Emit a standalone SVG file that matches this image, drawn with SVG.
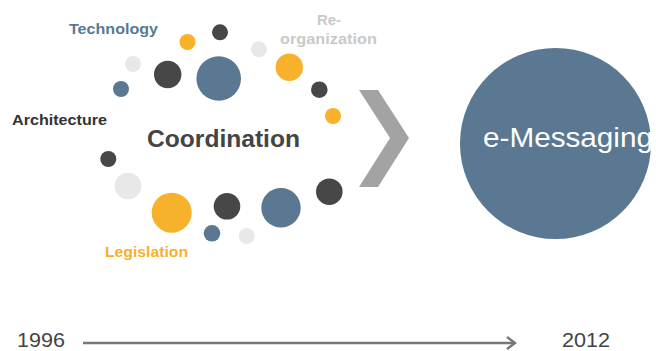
<svg xmlns="http://www.w3.org/2000/svg" width="656" height="351" viewBox="0 0 656 351">
<style>
text{font-family:"Liberation Sans",Arial,Helvetica,sans-serif;font-weight:bold}
.blue{fill:#5a7891}
.dark{fill:#474747}
.yel{fill:#f7b12b}
.lg{fill:#e8e8e8}
.lbl{font-size:15px}
.yr{font-size:20px;font-weight:normal;fill:#444}
</style>
<defs>
<marker id="ah" markerWidth="12" markerHeight="14" refX="10" refY="7" orient="auto" markerUnits="userSpaceOnUse">
<path d="M2,1 L10,7 L2,13" fill="none" stroke="#777" stroke-width="2.4"/>
</marker>
</defs>
<rect width="656" height="351" fill="#fff"/>
<g id="dots">
<circle class="yel" cx="187.5" cy="42" r="8"/>
<circle class="dark" cx="220" cy="32.3" r="8"/>
<circle class="lg" cx="259" cy="49.3" r="8"/>
<circle class="lg" cx="133" cy="64" r="8"/>
<circle class="dark" cx="167.7" cy="74.5" r="13.7"/>
<circle class="blue" cx="218.7" cy="78.5" r="22.3"/>
<circle class="yel" cx="289.3" cy="67.3" r="13.7"/>
<circle class="blue" cx="121" cy="89" r="8"/>
<circle class="dark" cx="319.3" cy="89.7" r="8.3"/>
<circle class="yel" cx="333" cy="116" r="8"/>
<circle class="dark" cx="108.3" cy="159" r="8"/>
<circle class="lg" cx="128" cy="186" r="13.3"/>
<circle class="yel" cx="171.7" cy="212.7" r="20"/>
<circle class="dark" cx="227" cy="206.3" r="13.3"/>
<circle class="blue" cx="281" cy="207.7" r="19.7"/>
<circle class="dark" cx="329.3" cy="191.7" r="13.3"/>
<circle class="blue" cx="212" cy="233.3" r="8.3"/>
<circle class="lg" cx="246.7" cy="236" r="8"/>
</g>
<g id="technology"><text class="lbl" x="69" y="34" fill="#5a7891" textLength="89" lengthAdjust="spacingAndGlyphs">Technology</text></g>
<g id="reorganization">
<text class="lbl" x="329" y="25" fill="#c9c9c9" text-anchor="middle">Re-</text>
<text class="lbl" x="280" y="44" fill="#c9c9c9" textLength="97" lengthAdjust="spacingAndGlyphs">organization</text>
</g>
<g id="architecture"><text class="lbl" x="12" y="125" fill="#333" textLength="95" lengthAdjust="spacingAndGlyphs">Architecture</text></g>
<g id="coordination"><text x="147" y="147" font-size="24" fill="#444" textLength="153" lengthAdjust="spacingAndGlyphs">Coordination</text></g>
<g id="legislation"><text class="lbl" x="105" y="257" fill="#f5b02e" textLength="83" lengthAdjust="spacingAndGlyphs">Legislation</text></g>
<g id="chevron"><polygon points="359,90 378,90 409,138 378,187 359,187 390,138" fill="#a3a3a3"/></g>
<g id="emessaging">
<circle class="blue" cx="555.5" cy="143.5" r="95.5"/>
<text x="483" y="147" font-size="27" font-weight="normal" fill="#fff" style="font-weight:normal" textLength="170" lengthAdjust="spacingAndGlyphs">e-Messaging</text>
</g>
<g id="connectors">
<line x1="83" y1="343" x2="515" y2="343" stroke="#777" stroke-width="2.4" marker-end="url(#ah)"/>
</g>
<g id="timeline">
<text class="yr" x="17" y="347" textLength="48" lengthAdjust="spacingAndGlyphs">1996</text>
<text class="yr" x="562" y="347" textLength="48" lengthAdjust="spacingAndGlyphs">2012</text>
</g>
</svg>
